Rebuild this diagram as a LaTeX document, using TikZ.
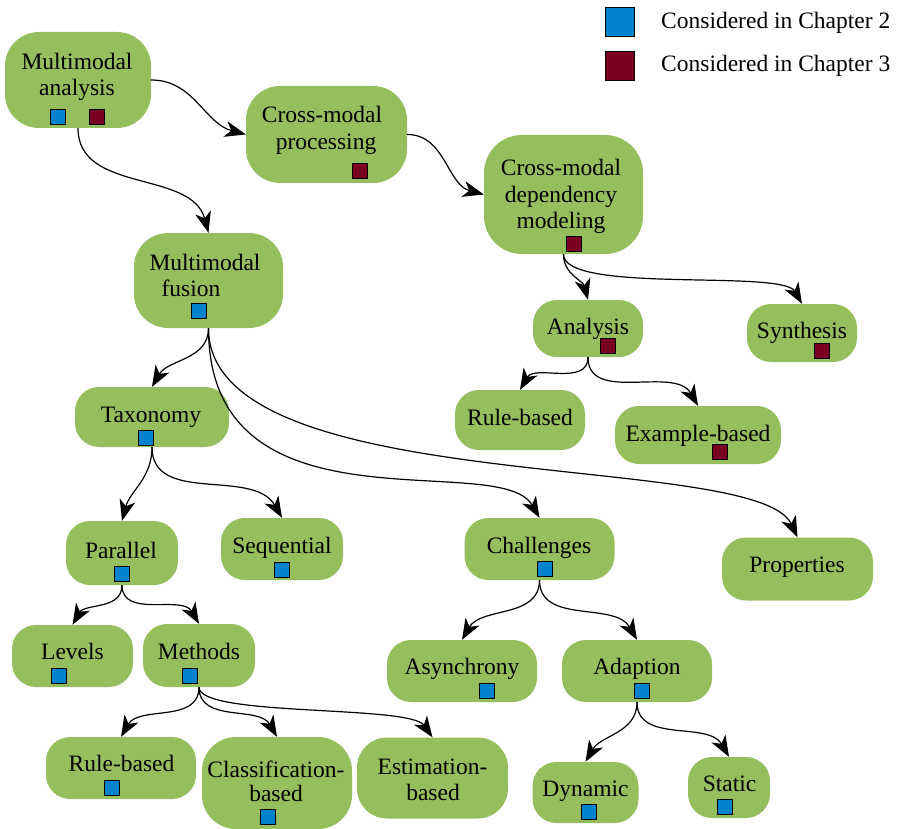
\documentclass[tikz,border=0pt]{standalone}
\usepackage{fontspec}
\setmainfont{Liberation Serif}
\usetikzlibrary{arrows.meta}
\definecolor{leaf}{RGB}{149,190,93}
\definecolor{chtwo}{RGB}{0,130,204}
\definecolor{chthree}{RGB}{121,0,32}
\begin{document}
\begin{tikzpicture}[x=1pt,y=-1pt,
  box/.style={fill=leaf, rounded corners=24pt, inner sep=0pt},
  bigbox/.style={box, rounded corners=34pt},
  lbl/.style={anchor=base, inner sep=0pt, font=\fontsize{23.5}{27}\selectfont},
  marktwo/.style={draw=black, line width=0.9pt, fill=chtwo, minimum size=15pt, inner sep=0pt},
  markthree/.style={marktwo, fill=chthree},
  link/.style={line width=1.2pt, -{Stealth[length=21pt,width=16pt,inset=6pt]}},
  dr/.style={out=-90, in=120},
  dl/.style={out=-90, in=60},
]
\useasboundingbox (0,0) rectangle (902,829);

% legend
\node[marktwo, minimum size=29pt] (legtwo) at (619.5,21.5) {};
\node[markthree, minimum size=29pt] (legthree) at (619.5,66) {};
\node[lbl, anchor=base west] at (661,28.5) {Considered in Chapter 2};
\node[lbl, anchor=base west] at (661,72) {Considered in Chapter 3};

% boxes
\node[bigbox, minimum width=146pt, minimum height=96pt] (ma) at (78,80) {};
\node[bigbox, minimum width=161pt, minimum height=97pt] (cp) at (326.5,134.5) {};
\node[bigbox, minimum width=159pt, minimum height=119pt, rounded corners=38pt] (cd) at (563.5,194.5) {};
\node[bigbox, minimum width=149pt, minimum height=95pt] (mf) at (208.5,280.5) {};
\node[box, minimum width=110pt, minimum height=57pt] (an) at (588,328.5) {};
\node[box, minimum width=110pt, minimum height=58pt] (sy) at (802,333) {};
\node[box, minimum width=130pt, minimum height=60pt] (rbu) at (520,420) {};
\node[box, minimum width=166pt, minimum height=58pt] (eb) at (698,435) {};
\node[box, minimum width=154pt, minimum height=60pt] (tx) at (152,417) {};
\node[box, minimum width=112pt, minimum height=64pt] (pa) at (122,553) {};
\node[box, minimum width=122pt, minimum height=62pt] (se) at (282,549) {};
\node[box, minimum width=150pt, minimum height=62pt] (ch) at (539.5,549) {};
\node[box, minimum width=151pt, minimum height=63pt] (pr) at (797.5,569) {};
\node[box, minimum width=121pt, minimum height=62pt] (le) at (72.5,656) {};
\node[box, minimum width=112pt, minimum height=63pt] (me) at (199,655.5) {};
\node[box, minimum width=150pt, minimum height=62pt] (as) at (462,671) {};
\node[box, minimum width=150pt, minimum height=62pt] (ad) at (637,671) {};
\node[box, minimum width=150pt, minimum height=62pt] (rbl) at (121,768) {};
\node[bigbox, minimum width=150pt, minimum height=92pt] (cl) at (277,783) {};
\node[bigbox, minimum width=151pt, minimum height=81pt, rounded corners=30pt] (es) at (432.5,778) {};
\node[box, minimum width=106pt, minimum height=61pt] (dy) at (585.5,792.5) {};
\node[box, minimum width=82pt, minimum height=61pt] (st) at (729,787.5) {};

% labels
\node[lbl] at (77,70) {Multimodal};
\node[lbl] at (77,96) {analysis};
\node[lbl] at (322,123) {Cross-modal};
\node[lbl] at (326,150) {processing};
\node[lbl] at (561,176) {Cross-modal};
\node[lbl] at (561,202.5) {dependency};
\node[lbl] at (561,229) {modeling};
\node[lbl] at (205,270) {Multimodal};
\node[lbl] at (191,296) {fusion};
\node[lbl] at (588,334) {Analysis};
\node[lbl] at (802,338.5) {Synthesis};
\node[lbl] at (520,425) {Rule-based};
\node[lbl] at (698,441) {Example-based};
\node[lbl] at (151,422) {Taxonomy};
\node[lbl] at (121,558) {Parallel};
\node[lbl] at (282,553) {Sequential};
\node[lbl] at (539,553) {Challenges};
\node[lbl] at (797,572) {Properties};
\node[lbl] at (72.5,659) {Levels};
\node[lbl] at (199,659) {Methods};
\node[lbl] at (462,674) {Asynchrony};
\node[lbl] at (637,674) {Adaption};
\node[lbl] at (121.5,771) {Rule-based};
\node[lbl] at (276,777) {Classification-};
\node[lbl] at (276,801) {based};
\node[lbl] at (432.5,774) {Estimation-};
\node[lbl] at (433,800) {based};
\node[lbl] at (585.5,796) {Dynamic};
\node[lbl] at (729.5,791) {Static};

% chapter marks
\node[marktwo] (ma2) at (58,117) {};
\node[markthree] (ma3) at (97,117) {};
\node[markthree] (cp3) at (360,171) {};
\node[markthree] (cd3) at (573.5,243.5) {};
\node[marktwo] (mf2) at (199,311) {};
\node[markthree] (an3) at (607.5,345.5) {};
\node[markthree] (sy3) at (821.5,350.5) {};
\node[markthree] (eb3) at (719.5,452) {};
\node[marktwo] (tx2) at (145.5,437.5) {};
\node[marktwo] (pa2) at (121.5,573.5) {};
\node[marktwo] (se2) at (282,569.5) {};
\node[marktwo] (ch2) at (544.5,569) {};
\node[marktwo] (le2) at (58.5,675.5) {};
\node[marktwo] (me2) at (189.5,675.5) {};
\node[marktwo] (as2) at (486.5,690.5) {};
\node[marktwo] (ad2) at (642,690.5) {};
\node[marktwo] (rbl2) at (111.5,788) {};
\node[marktwo] (cl2) at (267.5,817) {};
\node[marktwo] (dy2) at (588.5,812) {};
\node[marktwo] (st2) at (724.5,807) {};

% connectors
\draw[link] (ma.south) to[dr, in=105] (mf.north);
\draw[link] (ma.east) to[out=0, in=165] (cp.west);
\draw[link] (cp.east) to[out=0, in=165] (cd.west);
\draw[link] (cd.south) to[dr, in=105] (an.north);
\draw[link] (cd.south) to[out=-90, out distance=40pt, in=120, in distance=40pt] (sy.north);
\draw[link] (an.south) to[dl] (rbu.north);
\draw[link] (an.south) to[dr] (eb.north);
\draw[link] (mf.south) to[dl] (tx.north);
\draw[link] (mf.south) to[out=-90, out distance=212pt, in=120, in distance=80pt] (ch.north);
\draw[link] (mf.south) to[out=-90, out distance=172pt, in=115, in distance=97pt] (pr.north);
\draw[link] (tx.south) to[dl, in=75] (pa.north);
\draw[link] (tx.south) to[dr] (se.north);
\draw[link] (pa.south) to[dl] (le.north);
\draw[link] (pa.south) to[dr] (me.north);
\draw[link] (me.south) to[dl] (rbl.north);
\draw[link] (me.south) to[dr] (cl.north);
\draw[link] (me.south) to[out=-90, out distance=30pt, in=125, in distance=40pt] (es.north);
\draw[link] (ch.south) to[dl] (as.north);
\draw[link] (ch.south) to[dr] (ad.north);
\draw[link] (ad.south) to[dl] (dy.north);
\draw[link] (ad.south) to[dr] (st.north);
\end{tikzpicture}
\end{document}
